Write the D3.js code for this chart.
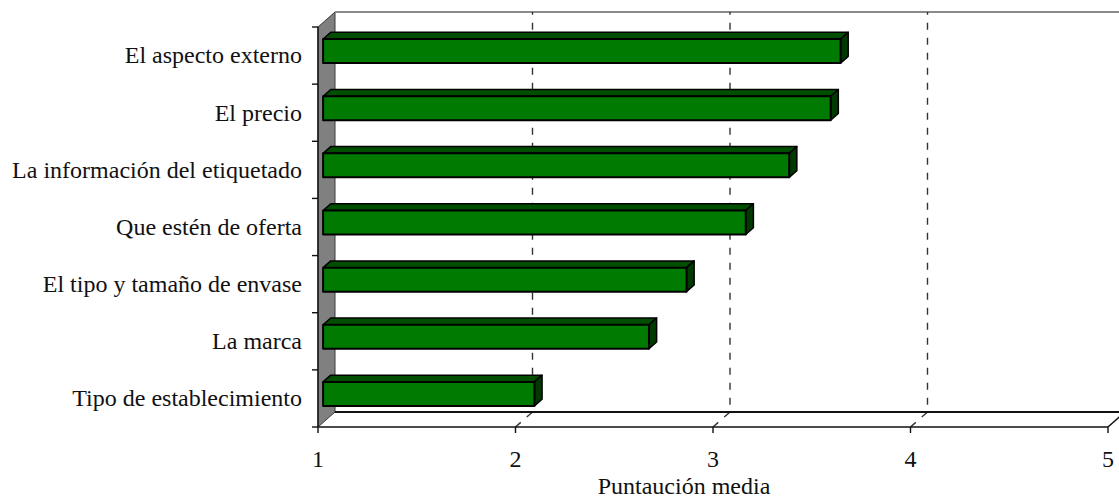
<!DOCTYPE html>
<html>
<head>
<meta charset="utf-8">
<script src="https://cdn.jsdelivr.net/npm/d3@7"></script>
<style>
  html, body { margin: 0; padding: 0; background: #fff; }
  svg { display: block; }
  text { font-family: "Liberation Serif", "Times New Roman", serif; fill: #111; }
</style>
</head>
<body>
<svg id="chart" width="1119" height="499"></svg>
<script>
// Factors rated by consumers (top to bottom) and their mean score
const categories = [
  "El aspecto externo",
  "El precio",
  "La información del etiquetado",
  "Que estén de oferta",
  "El tipo y tamaño de envase",
  "La marca",
  "Tipo de establecimiento"
];
const scores = [3.62, 3.57, 3.36, 3.14, 2.84, 2.65, 2.07];
const xTicks = [1, 2, 3, 4, 5];
const gridValues = [2, 3, 4];
const xTitle = "Puntaución media";

const svg = d3.select("#chart");

// Front plane scales
const x = d3.scaleLinear().domain([1, 5]).range([318, 1108]);
const y = d3.scaleBand().domain(categories).range([27, 427]).padding(0);

// Oblique depth offset of the 3D box
const DX = 17, DY = -15;
const proj = (px, py, z) => [px + DX * z, py + DY * z];

const plotTop = y.range()[0], plotBottom = y.range()[1];

// Left wall
const wall = [proj(x(1), plotTop, 0), proj(x(1), plotTop, 1), proj(x(1), plotBottom, 1), proj(x(1), plotBottom, 0)];
svg.append("polygon")
  .attr("points", wall.map(p => p.join(",")).join(" "))
  .attr("fill", "#808080")
  .attr("stroke", "#3a3a3a")
  .attr("stroke-width", 1);

// Back wall top edge
svg.append("line")
  .attr("x1", x(1) + DX).attr("y1", plotTop + DY)
  .attr("x2", x(5) + DX + 20).attr("y2", plotTop + DY)
  .attr("stroke", "#8a8a8a").attr("stroke-width", 2);

// Dashed gridlines: across the floor then up the back wall
const gridLine = d3.line();
svg.append("g").selectAll("path")
  .data(gridValues)
  .join("path")
  .attr("d", v => gridLine([[x(v), plotBottom], proj(x(v), plotBottom, 1), proj(x(v), plotTop, 1)]))
  .attr("fill", "none")
  .attr("stroke", "#333")
  .attr("stroke-width", 1.4)
  .attr("stroke-dasharray", "7,8");

// Floor: back edge, front edge and right edge
svg.append("line")
  .attr("x1", x(1) + DX).attr("y1", plotBottom + DY)
  .attr("x2", x(5) + DX + 20).attr("y2", plotBottom + DY)
  .attr("stroke", "#111").attr("stroke-width", 2.2);
svg.append("line")
  .attr("x1", x(1)).attr("y1", plotBottom)
  .attr("x2", x(5)).attr("y2", plotBottom)
  .attr("stroke", "#111").attr("stroke-width", 1.4);
svg.append("line")
  .attr("x1", x(5)).attr("y1", plotBottom)
  .attr("x2", x(5) + DX).attr("y2", plotBottom + DY)
  .attr("stroke", "#111").attr("stroke-width", 1.4);

// Vertical axis line on the front edge of the wall, with category ticks
svg.append("line")
  .attr("x1", x(1)).attr("y1", plotTop)
  .attr("x2", x(1)).attr("y2", plotBottom)
  .attr("stroke", "#111").attr("stroke-width", 1.4);
const boundaries = categories.map(c => y(c)).concat([plotBottom]);
svg.append("g").selectAll("line")
  .data(boundaries)
  .join("line")
  .attr("x1", x(1) - 6).attr("x2", x(1))
  .attr("y1", d => d).attr("y2", d => d)
  .attr("stroke", "#111").attr("stroke-width", 1.4);

// Bars drawn as oblique boxes
const z0 = 0.3, z1 = 0.75;
const barH = y.bandwidth() * 0.42;
const bars = svg.append("g").selectAll("g")
  .data(categories.map((c, i) => ({ c, v: scores[i] })))
  .join("g");

const faces = d => {
  const cy = y(d.c) + y.bandwidth() / 2;
  const y0 = cy - barH / 2, y1 = cy + barH / 2;
  const xa = x(1), xb = x(d.v);
  const fTL = proj(xa, y0, z0), fTR = proj(xb, y0, z0), fBR = proj(xb, y1, z0), fBL = proj(xa, y1, z0);
  const bTL = proj(xa, y0, z1), bTR = proj(xb, y0, z1), bBR = proj(xb, y1, z1);
  return {
    top: [fTL, bTL, bTR, fTR],
    side: [fTR, bTR, bBR, fBR],
    front: [fTL, fTR, fBR, fBL]
  };
};
const pts = arr => arr.map(p => p.join(",")).join(" ");

bars.append("polygon")
  .attr("points", d => pts(faces(d).top))
  .attr("fill", "#004f00").attr("stroke", "#000").attr("stroke-width", 1.5).attr("stroke-linejoin", "round");
bars.append("polygon")
  .attr("points", d => pts(faces(d).side))
  .attr("fill", "#003a00").attr("stroke", "#000").attr("stroke-width", 1.5).attr("stroke-linejoin", "round");
bars.append("polygon")
  .attr("points", d => pts(faces(d).front))
  .attr("fill", "#007a00").attr("stroke", "#000").attr("stroke-width", 2).attr("stroke-linejoin", "round");

// Category labels
svg.append("g").selectAll("text")
  .data(categories)
  .join("text")
  .attr("x", 302)
  .attr("y", c => y(c) + y.bandwidth() / 2)
  .attr("dy", "0.33em")
  .attr("text-anchor", "end")
  .attr("font-size", 24)
  .text(c => c);

// Bottom ticks and labels
svg.append("g").selectAll("line")
  .data(xTicks)
  .join("line")
  .attr("x1", v => x(v)).attr("x2", v => x(v))
  .attr("y1", plotBottom).attr("y2", plotBottom + 6)
  .attr("stroke", "#111").attr("stroke-width", 1.4);
svg.append("g").selectAll("text")
  .data(xTicks)
  .join("text")
  .attr("x", v => x(v))
  .attr("y", 467)
  .attr("text-anchor", "middle")
  .attr("font-size", 24)
  .text(v => v);

// Axis title
svg.append("text")
  .attr("x", 684)
  .attr("y", 494)
  .attr("text-anchor", "middle")
  .attr("font-size", 24)
  .text(xTitle);
</script>
</body>
</html>
